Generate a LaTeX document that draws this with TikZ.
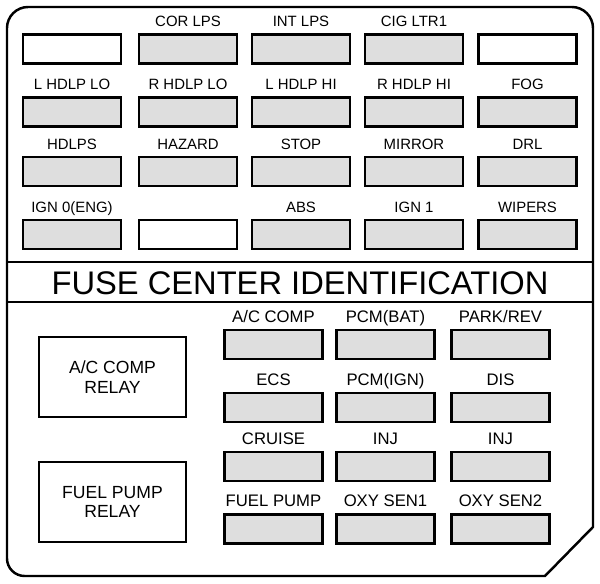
\documentclass[tikz,border=0pt]{standalone}
\usepackage{fontspec}
\setmainfont{Liberation Sans}
\usetikzlibrary{positioning}
\definecolor{fusegray}{RGB}{222,222,222}
\tikzset{
  fbfuse/.style={rectangle, draw=black, line width=1.2pt, fill=fusegray,
                 minimum width=1.96cm, minimum height=0.58cm, inner sep=0pt},
  fbblank/.style={fbfuse, fill=white},
  fbrelay/.style={rectangle, draw=black, line width=1pt,
                  minimum width=2.94cm, minimum height=1.6cm,
                  align=center, font=\fontsize{10}{11}\selectfont},
  fbtop/.style={font=\fontsize{8.5}{10}\selectfont, inner sep=0pt, text depth=0pt},
  fbbot/.style={font=\fontsize{9.5}{11}\selectfont, inner sep=0pt, text depth=0pt},
  fbline/.style={line width=1.4pt},
}

\begin{document}
\begin{tikzpicture}[x=0.02cm, y=-0.02cm, label distance=3.5pt]
  \useasboundingbox (0,0) rectangle (600,584);
  % outline of the label
  \draw[fbline] (7,300) [rounded corners=12pt] -- (7,7) -- (593,7) -- (593,300)
    [sharp corners] -- (593,527) -- (545,576) [rounded corners=10pt] -- (7,576)
    [sharp corners] -- cycle;
  \draw[fbline] (7,262) -- (593,262);
  \draw[fbline] (7,302) -- (593,302);
  \node[font=\fontsize{18.6}{20}\selectfont, inner sep=0pt] (title) at (300,283.5)
    {FUSE CENTER IDENTIFICATION};

  % upper fuse block
  \node[fbblank] (u11) at (72,49) {};
  \node[fbfuse, label={[fbtop]above:COR LPS}] (u12) at (188,49) {};
  \node[fbfuse, label={[fbtop]above:INT LPS}] (u13) at (301,49) {};
  \node[fbfuse, label={[fbtop]above:CIG LTR1}] (u14) at (414,49) {};
  \node[fbblank] (u15) at (527.5,49) {};

  \node[fbfuse, label={[fbtop]above:L HDLP LO}] (u21) at (72,112) {};
  \node[fbfuse, label={[fbtop]above:R HDLP LO}] (u22) at (188,112) {};
  \node[fbfuse, label={[fbtop]above:L HDLP HI}] (u23) at (301,112) {};
  \node[fbfuse, label={[fbtop]above:R HDLP HI}] (u24) at (414,112) {};
  \node[fbfuse, label={[fbtop]above:FOG}] (u25) at (527.5,112) {};

  \node[fbfuse, label={[fbtop]above:HDLPS}] (u31) at (72,171.5) {};
  \node[fbfuse, label={[fbtop]above:HAZARD}] (u32) at (188,171.5) {};
  \node[fbfuse, label={[fbtop]above:STOP}] (u33) at (301,171.5) {};
  \node[fbfuse, label={[fbtop]above:MIRROR}] (u34) at (414,171.5) {};
  \node[fbfuse, label={[fbtop]above:DRL}] (u35) at (527.5,171.5) {};

  \node[fbfuse, label={[fbtop]above:IGN 0(ENG)}] (u41) at (72,234.5) {};
  \node[fbblank] (u42) at (188,234.5) {};
  \node[fbfuse, label={[fbtop]above:ABS}] (u43) at (301,234.5) {};
  \node[fbfuse, label={[fbtop]above:IGN 1}] (u44) at (414,234.5) {};
  \node[fbfuse, label={[fbtop]above:WIPERS}] (u45) at (527.5,234.5) {};

  % relays
  \node[fbrelay] (acrelay) at (112.5,377) {A/C COMP\\RELAY};
  \node[fbrelay] (fprelay) at (112.5,502) {FUEL PUMP\\RELAY};

  % lower fuse block
  \node[fbfuse, label={[fbbot]above:A/C COMP}] (l11) at (273.5,344.5) {};
  \node[fbfuse, label={[fbbot]above:PCM(BAT)}] (l12) at (385.5,344.5) {};
  \node[fbfuse, label={[fbbot]above:PARK/REV}] (l13) at (500.5,344.5) {};

  \node[fbfuse, label={[fbbot]above:ECS}] (l21) at (273.5,407.5) {};
  \node[fbfuse, label={[fbbot]above:PCM(IGN)}] (l22) at (385.5,407.5) {};
  \node[fbfuse, label={[fbbot]above:DIS}] (l23) at (500.5,407.5) {};

  \node[fbfuse, label={[fbbot]above:CRUISE}] (l31) at (273.5,466.5) {};
  \node[fbfuse, label={[fbbot]above:INJ}] (l32) at (385.5,466.5) {};
  \node[fbfuse, label={[fbbot]above:INJ}] (l33) at (500.5,466.5) {};

  \node[fbfuse, label={[fbbot]above:FUEL PUMP}] (l41) at (273.5,529) {};
  \node[fbfuse, label={[fbbot]above:OXY SEN1}] (l42) at (385.5,529) {};
  \node[fbfuse, label={[fbbot]above:OXY SEN2}] (l43) at (500.5,529) {};
\end{tikzpicture}
\end{document}
